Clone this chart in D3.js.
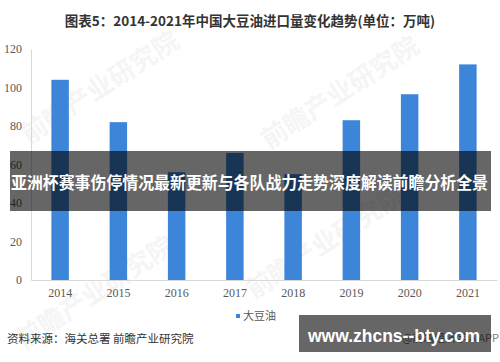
<!DOCTYPE html>
<html>
<head>
<meta charset="utf-8">
<script src="https://cdn.jsdelivr.net/npm/d3@7"></script>
<style>
  body { margin: 0; background: #fff; }
  svg { display: block; }
</style>
</head>
<body>
<div class="container"></div>
<script>
const WIDTH = 500;
const HEIGHT = 362;

// data
var years = ["2014", "2015", "2016", "2017", "2018", "2019", "2020", "2021"];
var imports = [104, 82, 56, 66, 55, 83, 96.5, 112];
var yTicks = [0, 20, 40, 60, 80, 100, 120];
var seriesName = "大豆油";
var title = "图表5：2014-2021年中国大豆油进口量变化趋势(单位：万吨)";
var source = "资料来源：海关总署 前瞻产业研究院";
var bannerText = "亚洲杯赛事伤停情况最新更新与各队战力走势深度解读前瞻分析全景";
var siteText = "www.zhcns--bty.com";

const CJK = "'Noto Sans CJK SC', 'Noto Sans', sans-serif";
const BLUE = "#3d85d8";

var svg = d3.select('.container').append('svg')
  .attr('width', WIDTH)
  .attr('height', HEIGHT);

var xScale = d3.scaleBand()
  .domain(years)
  .range([31, 497])
  .paddingInner(0.7)
  .paddingOuter(0.35);

var yScale = d3.scaleLinear()
  .domain([0, 120])
  .range([280, 49]);

// faint watermarks
var marks = [[105, 95], [345, 100], [330, 250], [100, 300]];
svg.append('g').selectAll('text').data(marks).enter().append('text')
  .attr('transform', function(d){ return "translate(" + d[0] + "," + d[1] + ") rotate(-33)"; })
  .attr('text-anchor', 'middle')
  .style('font-family', CJK)
  .style('font-size', '26px')
  .style('font-weight', 'bold')
  .style('fill', '#000')
  .style('opacity', 0.035)
  .text("前瞻产业研究院");

// title
svg.append('text')
  .attr('x', 250).attr('y', 26)
  .attr('text-anchor', 'middle')
  .style('font-family', CJK)
  .style('font-size', '13.5px')
  .style('font-weight', 'bold')
  .style('fill', '#333')
  .text(title);

// axes
var yAxis = d3.axisLeft(yScale).tickValues(yTicks).tickSize(0).tickPadding(9);
var yg = svg.append('g').attr('transform', 'translate(31,0)').call(yAxis);
yg.select('.domain').attr('stroke', '#d9d9d9');
yg.selectAll('text')
  .style('font-family', "'Liberation Serif', serif")
  .style('font-size', '12px')
  .style('fill', '#595959');

var xAxis = d3.axisBottom(xScale).tickSize(0).tickPadding(8);
var xg = svg.append('g').attr('transform', 'translate(0,280)').call(xAxis);
xg.select('.domain').attr('stroke', '#d9d9d9');
xg.selectAll('text')
  .style('font-family', "'Liberation Serif', serif")
  .style('font-size', '12px')
  .style('fill', '#595959');

// bars
svg.append('g').selectAll('rect').data(imports).enter().append('rect')
  .attr('x', function(d, i){ return xScale(years[i]); })
  .attr('y', function(d){ return yScale(d); })
  .attr('width', xScale.bandwidth())
  .attr('height', function(d){ return yScale(0) - yScale(d); })
  .attr('fill', BLUE);

// legend
svg.append('rect')
  .attr('x', 236).attr('y', 314)
  .attr('width', 4).attr('height', 4)
  .attr('fill', BLUE);
svg.append('text')
  .attr('x', 243).attr('y', 320)
  .style('font-family', CJK)
  .style('font-size', '11px')
  .style('fill', '#595959')
  .text(seriesName);

// source
svg.append('text')
  .attr('x', 7).attr('y', 343)
  .style('font-family', CJK)
  .style('font-size', '11.5px')
  .style('fill', '#333')
  .text(source);

svg.append('text')
  .attr('x', 499).attr('y', 342)
  .attr('text-anchor', 'end')
  .style('font-family', CJK)
  .style('font-size', '11px')
  .style('fill', '#777')
  .text("@前瞻经济学人APP");

// overlay banner
svg.append('rect')
  .attr('x', 10).attr('y', 151)
  .attr('width', 481).attr('height', 60)
  .attr('fill', '#000')
  .attr('opacity', 0.6);
svg.append('text')
  .attr('x', 11).attr('y', 189)
  .attr('textLength', 477)
  .attr('lengthAdjust', 'spacingAndGlyphs')
  .style('font-family', CJK)
  .style('font-size', '16.5px')
  .style('font-weight', 'bold')
  .style('fill', '#fff')
  .text(bannerText);

// site box
svg.append('rect')
  .attr('x', 299).attr('y', 315)
  .attr('width', 192).attr('height', 37)
  .attr('fill', '#000')
  .attr('opacity', 0.6);
svg.append('text')
  .attr('x', 308).attr('y', 342)
  .attr('textLength', 172)
  .attr('lengthAdjust', 'spacingAndGlyphs')
  .style('font-family', "'Liberation Sans', Arial, sans-serif")
  .style('font-size', '19px')
  .style('font-weight', 'bold')
  .style('fill', '#fff')
  .text(siteText);
</script>
</body>
</html>
